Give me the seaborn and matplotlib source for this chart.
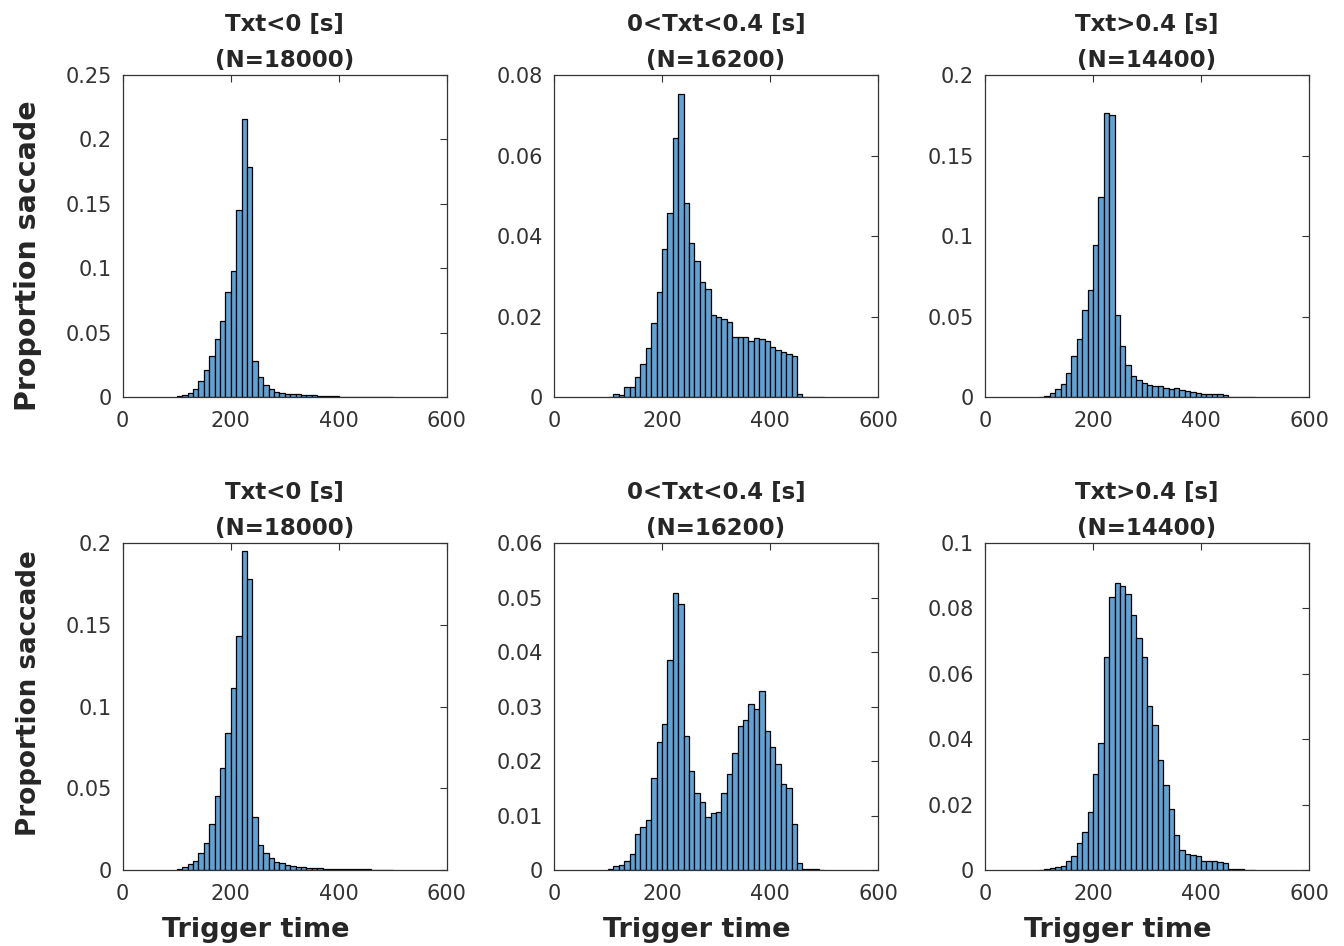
import numpy as np
import matplotlib
matplotlib.use("Agg")
import matplotlib.pyplot as plt
import seaborn as sns
from matplotlib.ticker import FuncFormatter

# bins of 10 ms, left edges 100..490
bin_left = list(range(100, 500, 10))

# proportion of saccades per bin
top_neg = [0.0008, 0.0018, 0.0034, 0.0062, 0.0127, 0.0212, 0.0319, 0.0453, 0.0593, 0.0816,
           0.098, 0.145, 0.2155, 0.1785, 0.0277, 0.0155, 0.0096, 0.0062, 0.0036, 0.0034,
           0.0026, 0.0023, 0.002, 0.0018, 0.0016, 0.0013, 0.001, 0.0008, 0.0006, 0.0005,
           0.0004, 0.0004, 0.0003, 0.0003, 0.0003, 0.0002, 0.0002, 0.0002, 0.0002, 0.0002]
top_mid = [0.0, 0.0008, 0.0005, 0.0025, 0.0025, 0.005, 0.0083, 0.0123, 0.0183, 0.026,
           0.0367, 0.0456, 0.0644, 0.0753, 0.0482, 0.0382, 0.0337, 0.0286, 0.0268, 0.0204,
           0.0200, 0.0194, 0.0187, 0.0148, 0.0148, 0.0149, 0.0140, 0.0146, 0.0144, 0.0138,
           0.0125, 0.0117, 0.0112, 0.0108, 0.0101, 0.0008, 0.0001, 0.0001, 0.0001, 0.0]
top_pos = [0.0002, 0.0008, 0.0025, 0.005, 0.008, 0.015, 0.0254, 0.0358, 0.054, 0.0666,
           0.0946, 0.124, 0.1767, 0.175, 0.051, 0.0316, 0.0202, 0.0129, 0.0108, 0.0087,
           0.0077, 0.0067, 0.0067, 0.0056, 0.005, 0.0058, 0.0046, 0.0035, 0.0031, 0.0027,
           0.0021, 0.0021, 0.0019, 0.0018, 0.0012, 0.0003, 0.0002, 0.0002, 0.0001, 0.0001]
bot_neg = [0.0004, 0.0016, 0.0035, 0.0055, 0.0102, 0.0163, 0.0279, 0.0454, 0.0625, 0.0839,
           0.1116, 0.1432, 0.1951, 0.1778, 0.0326, 0.0153, 0.0106, 0.0071, 0.0051, 0.0041,
           0.0031, 0.0024, 0.002, 0.0016, 0.0014, 0.0012, 0.001, 0.0009, 0.0008, 0.0007,
           0.0007, 0.0006, 0.0005, 0.0005, 0.0004, 0.0004, 0.0003, 0.0003, 0.0003, 0.0002]
bot_mid = [0.0001, 0.0007, 0.0009, 0.0017, 0.0029, 0.0066, 0.0079, 0.0092, 0.0169, 0.0235,
           0.0268, 0.0385, 0.0509, 0.0488, 0.0246, 0.0182, 0.0142, 0.0124, 0.0098, 0.0104,
           0.0107, 0.0141, 0.0176, 0.0214, 0.0264, 0.0276, 0.0305, 0.0296, 0.0329, 0.0255,
           0.0226, 0.0195, 0.0158, 0.015, 0.0084, 0.0012, 0.0001, 0.0001, 0.0001, 0.0]
bot_pos = [0.0001, 0.0003, 0.0005, 0.0008, 0.0013, 0.0029, 0.0044, 0.0083, 0.0117, 0.0177,
           0.0294, 0.0389, 0.0651, 0.0835, 0.0879, 0.0868, 0.0845, 0.0779, 0.071, 0.0651,
           0.0501, 0.0442, 0.0335, 0.026, 0.0187, 0.0108, 0.0062, 0.0049, 0.0047, 0.0044,
           0.0029, 0.0027, 0.0027, 0.0026, 0.0022, 0.0002, 0.0002, 0.0002, 0.0001, 0.0001]

titles = ["Txt<0 [s]\n(N=18000)", "0<Txt<0.4 [s]\n(N=16200)", "Txt>0.4 [s]\n(N=14400)"]
series = [[top_neg, top_mid, top_pos], [bot_neg, bot_mid, bot_pos]]
ylims = [[0.25, 0.08, 0.2], [0.2, 0.06, 0.1]]
ysteps = [[0.05, 0.02, 0.05], [0.05, 0.01, 0.02]]
xticks = [0, 200, 400, 600]

sns.set_style("white")
plt.rcParams["font.family"] = ["DejaVu Sans"]

fig = plt.figure(figsize=(13.44, 9.46), dpi=100)
col_left = [0.0913, 0.4122, 0.7329]
row_pos = [(0.5803, 0.3404), (0.0803, 0.3457)]
width = 0.2411
bar_color = "#5EA3D6"
grey = "#333333"

edges = bin_left + [bin_left[-1] + 10]
centers = [b + 5 for b in bin_left]

for r in range(2):
    for c in range(3):
        bottom, height = row_pos[r]
        ax = fig.add_axes([col_left[c], bottom, width, height])
        sns.histplot(x=centers, weights=series[r][c], bins=edges, ax=ax,
                     color=bar_color, edgecolor="black", linewidth=0.9, alpha=1)
        ax.set_xlim(0, 600)
        ax.set_ylim(0, ylims[r][c])
        ax.set_xticks(xticks)
        ax.set_yticks(np.arange(0, ylims[r][c] + 1e-9, ysteps[r][c]))
        ax.yaxis.set_major_formatter(FuncFormatter(lambda v, p: "%g" % round(v, 4)))
        ax.tick_params(direction="in", top=True, right=True, length=5, width=0.8,
                       colors=grey, labelsize=15)
        ax.tick_params(axis="x", pad=10)
        ax.tick_params(axis="y", pad=8)
        for s in ax.spines.values():
            s.set_color(grey)
            s.set_linewidth(0.9)
        ax.set_title(titles[c], fontsize=16.5, fontweight="bold", pad=6, linespacing=1.7)
        ax.set_ylabel("")
        if c == 0:
            ax.set_ylabel("Proportion saccade", fontsize=20.5 if r == 0 else 18.8,
                          fontweight="bold")
            ax.yaxis.set_label_coords(-0.25, 0.44 if r == 0 else 0.54)
        if r == 1:
            ax.set_xlabel("Trigger time", fontsize=19.6, fontweight="bold")
            ax.xaxis.set_label_coords([0.41, 0.44, 0.41][c], -0.145)
        else:
            ax.set_xlabel("")

fig.savefig("out.png", dpi=100)
